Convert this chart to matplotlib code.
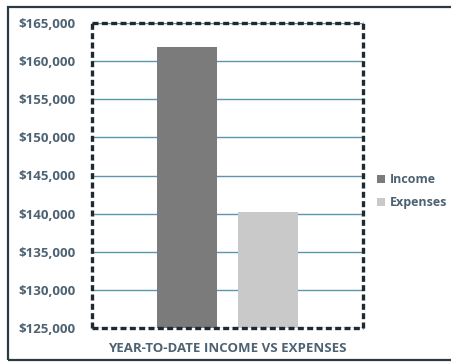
import matplotlib.pyplot as plt
from matplotlib.patches import Rectangle
from matplotlib.ticker import FuncFormatter

series = ['Income', 'Expenses']
values = [161800, 140200]
colors = ['#7b7b7b', '#c9c9c9']
xlabel = 'YEAR-TO-DATE INCOME VS EXPENSES'

plt.rcParams['font.family'] = ['Open Sans', 'DejaVu Sans']
text_col = '#4d6272'

fig = plt.figure(figsize=(4.52, 3.62), dpi=100)
fig.patch.set_facecolor('white')
ax = fig.add_axes([92 / 452, 1 - 328 / 362, 271 / 452, 305 / 362])

# outer chart frame
fig.patches.append(Rectangle((8 / 452, 2 / 362), 1.0, 353 / 362, transform=fig.transFigure,
                             fill=False, edgecolor='#2b3a42', linewidth=1.6))

pos = [-0.27, 0.27]
for p, v, c, s in zip(pos, values, colors, series):
    ax.bar(p, v - 125000, bottom=125000, width=0.4, color=c, label=s, zorder=3)

ax.set_xlim(-0.9, 0.9)
ax.set_ylim(125000, 165000)
ax.set_yticks(range(125000, 165001, 5000))
ax.yaxis.set_major_formatter(FuncFormatter(lambda v, _: '${:,.0f}'.format(v)))
ax.set_xticks([])
ax.tick_params(axis='y', length=0, pad=12, labelsize=9.5, labelcolor=text_col)
for t in ax.get_yticklabels():
    t.set_fontweight('bold')
ax.grid(axis='y', color='#5a97ad', linewidth=1.0, zorder=1)
for sp in ax.spines.values():
    sp.set_linestyle((0, (1.8, 1.0)))
    sp.set_linewidth(2.4)
    sp.set_color('#1e2a30')
    sp.set_capstyle('butt')
    sp.set_zorder(4)

ax.set_xlabel(xlabel, fontsize=9.5, fontweight='bold', color=text_col, labelpad=10)

leg = fig.legend(loc='upper left', bbox_to_anchor=(366 / 452, 1 - 162 / 362), frameon=False,
                 fontsize=9, handlelength=0.6, handleheight=0.6, handletextpad=0.4,
                 labelspacing=0.8)
for t in leg.get_texts():
    t.set_color(text_col)
    t.set_fontweight('bold')

fig.savefig('out.png', dpi=100)
